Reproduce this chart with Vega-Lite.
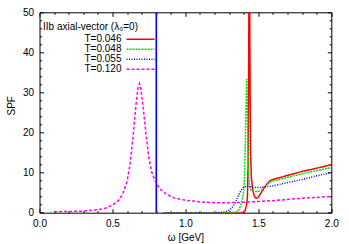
{
  "$schema": "https://vega.github.io/schema/vega-lite/v6.json",
  "width": 291.8,
  "height": 200.4,
  "autosize": {"type": "none"},
  "padding": {"left": 39.5, "top": 12.3, "right": 17.7, "bottom": 31.3},
  "config": {
    "view": {"stroke": null},
    "font": "Liberation Sans",
    "axis": {
      "domainColor": "black", "domainWidth": 1, "tickColor": "black", "tickWidth": 1,
      "labelColor": "black", "titleColor": "black", "labelFont": "Liberation Sans",
      "titleFont": "Liberation Sans", "labelFontSize": 10, "titleFontSize": 10,
      "titleFontWeight": "normal", "grid": false, "labelFlush": false, "labelOverlap": false
    }
  },
  "datasets": {
    "curves": [
      {"w": 0.85, "s": 0, "T": "T=0.046"}, {"w": 1.38, "s": 0, "T": "T=0.046"}, {"w": 1.40, "s": 0.1, "T": "T=0.046"},
      {"w": 1.41, "s": 0.6, "T": "T=0.046"}, {"w": 1.42, "s": 2.0, "T": "T=0.046"}, {"w": 1.425, "s": 4, "T": "T=0.046"},
      {"w": 1.43, "s": 12, "T": "T=0.046"}, {"w": 1.434, "s": 40, "T": "T=0.046"}, {"w": 1.438, "s": 80, "T": "T=0.046"},
      {"w": 1.442, "s": 40, "T": "T=0.046"}, {"w": 1.446, "s": 16, "T": "T=0.046"}, {"w": 1.452, "s": 9, "T": "T=0.046"},
      {"w": 1.46, "s": 6, "T": "T=0.046"}, {"w": 1.47, "s": 4.4, "T": "T=0.046"}, {"w": 1.48, "s": 3.7, "T": "T=0.046"},
      {"w": 1.49, "s": 3.6, "T": "T=0.046"}, {"w": 1.50, "s": 3.9, "T": "T=0.046"}, {"w": 1.52, "s": 5.0, "T": "T=0.046"},
      {"w": 1.54, "s": 6.2, "T": "T=0.046"}, {"w": 1.56, "s": 7.2, "T": "T=0.046"}, {"w": 1.58, "s": 8.0, "T": "T=0.046"},
      {"w": 1.60, "s": 8.3, "T": "T=0.046"}, {"w": 1.70, "s": 9.3, "T": "T=0.046"}, {"w": 1.80, "s": 10.3, "T": "T=0.046"},
      {"w": 1.90, "s": 11.1, "T": "T=0.046"}, {"w": 2.00, "s": 12.0, "T": "T=0.046"},

      {"w": 0.85, "s": 0, "T": "T=0.048"}, {"w": 1.30, "s": 0, "T": "T=0.048"}, {"w": 1.34, "s": 0.1, "T": "T=0.048"},
      {"w": 1.36, "s": 0.4, "T": "T=0.048"}, {"w": 1.37, "s": 1.0, "T": "T=0.048"}, {"w": 1.38, "s": 2.0, "T": "T=0.048"},
      {"w": 1.39, "s": 3.3, "T": "T=0.048"}, {"w": 1.40, "s": 5.5, "T": "T=0.048"}, {"w": 1.405, "s": 9, "T": "T=0.048"},
      {"w": 1.41, "s": 16, "T": "T=0.048"}, {"w": 1.415, "s": 26, "T": "T=0.048"}, {"w": 1.42, "s": 33.4, "T": "T=0.048"},
      {"w": 1.425, "s": 26, "T": "T=0.048"}, {"w": 1.43, "s": 15, "T": "T=0.048"}, {"w": 1.435, "s": 9, "T": "T=0.048"},
      {"w": 1.44, "s": 6.5, "T": "T=0.048"}, {"w": 1.45, "s": 5.6, "T": "T=0.048"}, {"w": 1.47, "s": 5.3, "T": "T=0.048"},
      {"w": 1.50, "s": 5.3, "T": "T=0.048"}, {"w": 1.52, "s": 5.6, "T": "T=0.048"}, {"w": 1.55, "s": 6.8, "T": "T=0.048"},
      {"w": 1.58, "s": 7.6, "T": "T=0.048"}, {"w": 1.60, "s": 7.9, "T": "T=0.048"}, {"w": 1.70, "s": 8.8, "T": "T=0.048"},
      {"w": 1.80, "s": 9.7, "T": "T=0.048"}, {"w": 1.90, "s": 10.5, "T": "T=0.048"}, {"w": 2.00, "s": 11.3, "T": "T=0.048"},

      {"w": 0.85, "s": 0, "T": "T=0.055"}, {"w": 1.20, "s": 0, "T": "T=0.055"}, {"w": 1.25, "s": 0.1, "T": "T=0.055"},
      {"w": 1.28, "s": 0.3, "T": "T=0.055"}, {"w": 1.30, "s": 0.6, "T": "T=0.055"}, {"w": 1.32, "s": 1.3, "T": "T=0.055"},
      {"w": 1.34, "s": 2.3, "T": "T=0.055"}, {"w": 1.36, "s": 4.0, "T": "T=0.055"}, {"w": 1.38, "s": 5.5, "T": "T=0.055"},
      {"w": 1.40, "s": 6.4, "T": "T=0.055"}, {"w": 1.42, "s": 6.6, "T": "T=0.055"}, {"w": 1.45, "s": 6.5, "T": "T=0.055"},
      {"w": 1.48, "s": 6.3, "T": "T=0.055"}, {"w": 1.52, "s": 6.3, "T": "T=0.055"}, {"w": 1.56, "s": 6.5, "T": "T=0.055"},
      {"w": 1.60, "s": 6.7, "T": "T=0.055"}, {"w": 1.70, "s": 7.5, "T": "T=0.055"}, {"w": 1.80, "s": 8.3, "T": "T=0.055"},
      {"w": 1.90, "s": 9.2, "T": "T=0.055"}, {"w": 2.00, "s": 10.0, "T": "T=0.055"},

      {"w": 0.10, "s": 0.25, "T": "T=0.120"}, {"w": 0.20, "s": 0.3, "T": "T=0.120"}, {"w": 0.30, "s": 0.4, "T": "T=0.120"},
      {"w": 0.40, "s": 0.75, "T": "T=0.120"}, {"w": 0.45, "s": 1.1, "T": "T=0.120"}, {"w": 0.50, "s": 1.9, "T": "T=0.120"},
      {"w": 0.54, "s": 3.0, "T": "T=0.120"}, {"w": 0.57, "s": 4.6, "T": "T=0.120"}, {"w": 0.60, "s": 7.8, "T": "T=0.120"},
      {"w": 0.62, "s": 12.0, "T": "T=0.120"}, {"w": 0.64, "s": 18.5, "T": "T=0.120"}, {"w": 0.66, "s": 26.5, "T": "T=0.120"},
      {"w": 0.675, "s": 31.2, "T": "T=0.120"}, {"w": 0.685, "s": 32.2, "T": "T=0.120"}, {"w": 0.695, "s": 30.8, "T": "T=0.120"},
      {"w": 0.71, "s": 26.5, "T": "T=0.120"}, {"w": 0.73, "s": 19.5, "T": "T=0.120"}, {"w": 0.75, "s": 13.5, "T": "T=0.120"},
      {"w": 0.77, "s": 10.0, "T": "T=0.120"}, {"w": 0.80, "s": 7.3, "T": "T=0.120"}, {"w": 0.83, "s": 5.8, "T": "T=0.120"},
      {"w": 0.87, "s": 4.6, "T": "T=0.120"}, {"w": 0.92, "s": 3.7, "T": "T=0.120"}, {"w": 1.00, "s": 3.1, "T": "T=0.120"},
      {"w": 1.10, "s": 2.7, "T": "T=0.120"}, {"w": 1.20, "s": 2.5, "T": "T=0.120"}, {"w": 1.30, "s": 2.5, "T": "T=0.120"},
      {"w": 1.40, "s": 2.6, "T": "T=0.120"}, {"w": 1.50, "s": 2.8, "T": "T=0.120"}, {"w": 1.60, "s": 3.0, "T": "T=0.120"},
      {"w": 1.70, "s": 3.3, "T": "T=0.120"}, {"w": 1.80, "s": 3.6, "T": "T=0.120"}, {"w": 1.90, "s": 3.8, "T": "T=0.120"},
      {"w": 2.00, "s": 4.1, "T": "T=0.120"}
    ],
    "frame": [{"w": 0, "s": 0}, {"w": 2, "s": 50}]
  },
  "layer": [
    {
      "data": {"name": "frame"},
      "mark": {"type": "point", "opacity": 0},
      "encoding": {
        "x": {"field": "w", "type": "quantitative", "scale": {"domain": [0, 2], "nice": false, "zero": false},
              "axis": {"title": null, "labels": false, "domain": false, "tickSize": -2,
                       "values": [0.1,0.2,0.3,0.4,0.6,0.7,0.8,0.9,1.1,1.2,1.3,1.4,1.6,1.7,1.8,1.9]}},
        "y": {"field": "s", "type": "quantitative", "scale": {"domain": [0, 50], "nice": false},
              "axis": {"title": null, "labels": false, "domain": false, "tickSize": -2,
                       "values": [2,4,6,8,12,14,16,18,22,24,26,28,32,34,36,38,42,44,46,48]}}
      }
    },
    {
      "data": {"name": "frame"},
      "mark": {"type": "point", "opacity": 0},
      "encoding": {
        "x": {"field": "w", "type": "quantitative", "scale": {"domain": [0, 2], "nice": false, "zero": false},
              "axis": {"orient": "top", "title": "IIb axial-vector (λ₀=0)", "titleX": 3, "titleY": 14, "titleAlign": "left",
                       "titleBaseline": "middle", "titleAngle": 0, "labels": false, "tickSize": -4, "values": [0, 0.5, 1, 1.5, 2]}},
        "y": {"field": "s", "type": "quantitative", "scale": {"domain": [0, 50], "nice": false},
              "axis": {"orient": "right", "title": null, "labels": false, "tickSize": -4, "values": [0, 10, 20, 30, 40, 50]}}
      }
    },
    {
      "data": {"name": "frame"},
      "mark": {"type": "point", "opacity": 0},
      "encoding": {
        "x": {"field": "w", "type": "quantitative", "scale": {"domain": [0, 2], "nice": false, "zero": false},
              "axis": {"orient": "top", "title": null, "labels": false, "domain": false, "tickSize": -2,
                       "values": [0.1,0.2,0.3,0.4,0.6,0.7,0.8,0.9,1.1,1.2,1.3,1.4,1.6,1.7,1.8,1.9]}},
        "y": {"field": "s", "type": "quantitative", "scale": {"domain": [0, 50], "nice": false},
              "axis": {"orient": "right", "title": null, "labels": false, "domain": false, "tickSize": -2,
                       "values": [2,4,6,8,12,14,16,18,22,24,26,28,32,34,36,38,42,44,46,48]}}
      }
    },
    {
      "data": {"values": [{"w": 0.803}]},
      "mark": {"type": "rule", "color": "#00e000", "strokeWidth": 1.2},
      "encoding": {"x": {"field": "w", "type": "quantitative", "scale": {"domain": [0, 2], "nice": false, "zero": false}, "axis": null}}
    },
    {
      "data": {"values": [{"w": 0.8}]},
      "mark": {"type": "rule", "color": "#0000ff", "strokeWidth": 1.5},
      "encoding": {"x": {"field": "w", "type": "quantitative", "scale": {"domain": [0, 2], "nice": false, "zero": false}, "axis": null}}
    },
    {
      "data": {"name": "curves"},
      "mark": {"type": "line", "clip": true, "strokeWidth": 1.5},
      "encoding": {
        "x": {"field": "w", "type": "quantitative", "scale": {"domain": [0, 2], "nice": false, "zero": false},
              "axis": {"title": "ω [GeV]", "values": [0, 0.5, 1, 1.5, 2], "format": ".1f", "tickSize": -4,
                       "labelPadding": 10, "titlePadding": 4}},
        "y": {"field": "s", "type": "quantitative", "scale": {"domain": [0, 50], "nice": false},
              "axis": {"title": "SPF", "values": [0, 10, 20, 30, 40, 50], "tickSize": -4, "labelPadding": 10,
                       "titleX": -23, "titleY": 93}},
        "color": {"field": "T", "type": "nominal",
                  "scale": {"domain": ["T=0.046", "T=0.048", "T=0.055", "T=0.120"], "range": ["#ff0000", "#00e000", "#0000ff", "#ff00ff"]},
                  "legend": {"orient": "none", "legendX": 96, "legendY": 22, "title": null, "symbolType": "M-3.5,0H3.5",
                             "symbolSize": 64, "symbolStrokeWidth": 1.5, "labelAlign": "right", "labelOffset": -24,
                             "labelFontSize": 10, "labelFont": "Liberation Sans", "labelColor": "black", "rowPadding": 0, "padding": 0}},
        "strokeDash": {"field": "T", "type": "nominal",
                       "scale": {"domain": ["T=0.046", "T=0.048", "T=0.055", "T=0.120"], "range": [[1, 0], [2, 1], [1, 1.5], [3, 2]]},
                       "legend": {"orient": "none", "legendX": 96, "legendY": 22, "title": null, "symbolType": "M-3.5,0H3.5",
                             "symbolSize": 64, "symbolStrokeWidth": 1.5, "labelAlign": "right", "labelOffset": -24,
                             "labelFontSize": 10, "labelFont": "Liberation Sans", "labelColor": "black", "rowPadding": 0, "padding": 0}}
      }
    }
  ],
  "resolve": {"axis": {"x": "independent", "y": "independent"}}
}
